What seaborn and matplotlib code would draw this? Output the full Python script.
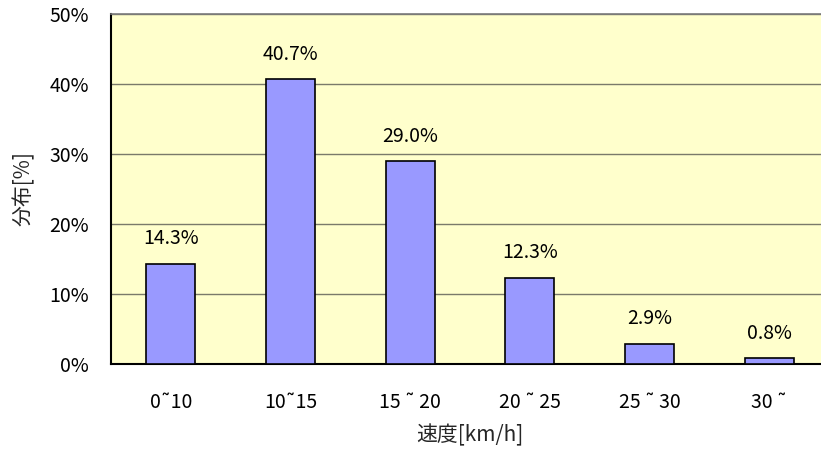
import matplotlib
matplotlib.use("Agg")
import matplotlib.pyplot as plt
from matplotlib import font_manager
import seaborn as sns
import pandas as pd
from matplotlib.ticker import FuncFormatter, FixedLocator

categories = ["0\u02dc10", "10\u02dc15", "15 \u02dc 20", "20 \u02dc 25", "25 \u02dc 30", "30 \u02dc"]
shares = [14.3, 40.7, 29.0, 12.3, 2.9, 0.8]
y_ticks = [0, 10, 20, 30, 40, 50]

sns.set_style("white")
installed = {f.name for f in font_manager.fontManager.ttflist}
families = [f for f in ["Liberation Sans Narrow", "Noto Sans CJK JP", "DejaVu Sans"] if f in installed]
plt.rcParams["font.family"] = families
plt.rcParams["text.color"] = "black"
plt.rcParams["xtick.color"] = "black"
plt.rcParams["ytick.color"] = "black"
narrow = "Liberation Sans Narrow" in installed
fs = 15 if narrow else 14

df = pd.DataFrame({"speed": categories, "share": shares})

fig = plt.figure(figsize=(8.21, 4.55), dpi=100)
ax = fig.add_axes([111 / 821, 91 / 455, 718 / 821, 350 / 455])
ax.set_facecolor("#FFFFCC")

sns.barplot(data=df, x="speed", y="share", color="#9999FF", width=0.41,
            edgecolor="black", linewidth=1.2, saturation=1, ax=ax, zorder=3)

ax.set_xlim(-0.5, len(categories) - 0.5)
ax.set_ylim(0, 50)
ax.yaxis.set_major_locator(FixedLocator(y_ticks))
ax.yaxis.set_major_formatter(FuncFormatter(lambda v, _: f"{v:.0f}%"))
ax.grid(axis="y", color="#7a7a6a", linewidth=1.0, zorder=1)
ax.set_axisbelow(True)

# category boundaries marked with short inward ticks
ax.set_xticks(range(len(categories)))
ax.set_xticklabels(categories)
ax.set_xticks([i + 0.5 for i in range(len(categories) - 1)], minor=True)
ax.tick_params(axis="x", which="major", length=0, pad=20, labelsize=fs)
ax.tick_params(axis="x", which="minor", direction="in", length=5, width=1, color="#333333")
ax.tick_params(axis="y", which="major", direction="in", length=6, width=1,
               color="#333333", labelsize=fs, pad=16)

for side in ("left", "bottom"):
    ax.spines[side].set_color("black")
    ax.spines[side].set_linewidth(1.5)
ax.spines["top"].set_color("#7a7a7a")
ax.spines["top"].set_linewidth(1.2)
ax.spines["right"].set_visible(False)

for i, v in enumerate(shares):
    ax.annotate(f"{v:.1f}%", (i, v), xytext=(0, 18), textcoords="offset points",
                ha="center", va="center", fontsize=fs)

ax.set_xlabel("速度[km/h]", fontsize=fs + 1, labelpad=8)
ax.set_ylabel("分布[%]", fontsize=fs + 1, labelpad=10)

fig.savefig("out.png", dpi=100)
